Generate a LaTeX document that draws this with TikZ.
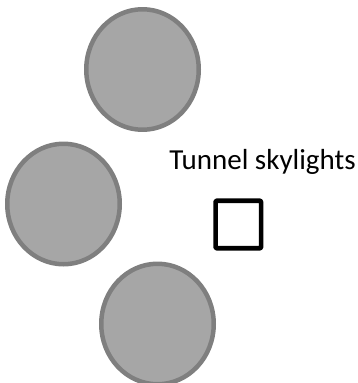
\documentclass[tikz,border=0pt]{standalone}
\usepackage{fontspec}
\setmainfont{Carlito}
\usetikzlibrary{shapes.geometric}
\definecolor{craterfill}{HTML}{A6A6A6}
\definecolor{craterline}{HTML}{7F7F7F}
\begin{document}
\begin{tikzpicture}[x=1pt, y=-1pt, line join=round,
		crater/.style={ellipse, draw=craterline, fill=craterfill, line width=4.5pt, minimum width=112.5pt, minimum height=120.5pt, inner sep=0pt},
		skylight/.style={draw=black, line width=4.6pt, rounded corners=1pt, minimum width=45.5pt, minimum height=47.5pt, inner sep=0pt}]
	\useasboundingbox (0,0) rectangle (358,383);
	\foreach \n/\x/\y in {top/142.5/69.5, left/63.5/204, bottom/157.5/324} \node[crater] (crater-\n) at (\x,\y) {};
	\node[skylight] (sky) at (238.3,224.5) {};
	\node[anchor=base, inner sep=0pt, font=\fontsize{29}{35}\selectfont] (lbl) at (262.5,169) {Tunnel skylights};
\end{tikzpicture}
\end{document}
